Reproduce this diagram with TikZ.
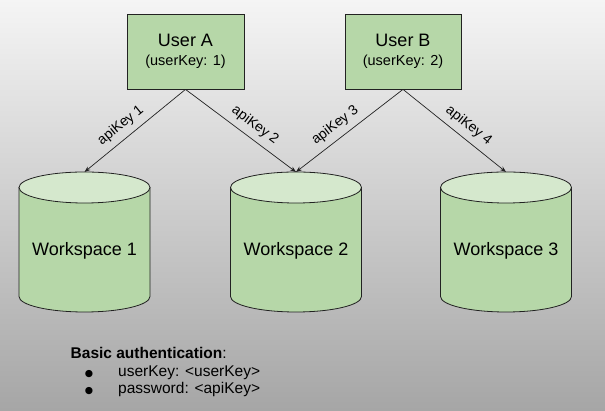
\documentclass[tikz,border=0pt]{standalone}
\usepackage{fontspec}
\setmainfont{Liberation Sans}
\newfontfamily\dejavu{DejaVu Sans}
\usetikzlibrary{arrows.meta}
\definecolor{boxgreen}{HTML}{B6D7A8}
\definecolor{capgreen}{HTML}{D5E8CD}
\definecolor{edgecol}{HTML}{222222}
\tikzset{
  userbox/.style={draw=edgecol, line width=0.8pt, fill=boxgreen, minimum width=117pt, minimum height=75pt, inner sep=0pt, align=center, font=\fontsize{18}{19.5}\selectfont},
  keyarrow/.style={draw=edgecol, line width=0.7pt, -{Stealth[length=6pt,width=4.5pt]}},
  keylabel/.style={sloped, above=5pt, pos=0.56, font=\fontsize{14}{16}\selectfont, inner sep=1pt},
  cylbody/.style={fill=boxgreen, draw=edgecol, line width=0.8pt},
  cylcap/.style={fill=capgreen, draw=edgecol, line width=0.8pt},
  bodytext/.style={inner sep=0pt, font=\fontsize{15.5}{18}\selectfont},
}
\newcommand{\wscyl}[3]{%
  % #1 name, #2 center x, #3 label
  \path[cylbody] (#2-65.5,223.5) -- (#2-65.5,114.5) arc[start angle=180, end angle=360, x radius=65.5, y radius=15.5] -- (#2+65.5,223.5) -- cycle;
  \path[cylcap] (#2,223.5) ellipse[x radius=65.5, y radius=15.5];
  \coordinate (#1top) at (#2,239);
  \node[font=\fontsize{18}{20}\selectfont] (#1) at (#2,160) {#3};
}
\newcommand{\bul}{{\dejavu\fontsize{9.5}{12}\selectfont ●}}
\begin{document}
\begin{tikzpicture}[x=1pt,y=1pt]
  \shade[top color=white!96!black, bottom color=black!35] (0,0) rectangle (605,411);
  \useasboundingbox (0,0) rectangle (605,411);

  \node[userbox] (ua) at (185.5,359.5) {User A\\{\fontsize{14.5}{19.5}\selectfont (userKey: 1)}};
  \node[userbox, minimum width=116pt] (ub) at (403,359.5) {User B\\{\fontsize{14.5}{19.5}\selectfont (userKey: 2)}};

  \wscyl{wa}{84.5}{Workspace 1}
  \wscyl{wb}{296}{Workspace 2}
  \wscyl{wc}{506}{Workspace 3}

  \draw[keyarrow] (ua.south) -- node[keylabel] {apiKey 1} (watop);
  \draw[keyarrow] (ua.south) -- node[keylabel] {apiKey 2} (wbtop);
  \draw[keyarrow] (ub.south) -- node[keylabel] {apiKey 3} (wbtop);
  \draw[keyarrow] (ub.south) -- node[keylabel] {apiKey 4} (wctop);

  \node[bodytext, anchor=base west] (auth) at (70.5,52) {\textbf{Basic authentication}:};
  \node[bodytext, anchor=base] (b1) at (89,34) {\bul};
  \node[bodytext, anchor=base west] (t1) at (118,34) {userKey: <userKey>};
  \node[bodytext, anchor=base] (b2) at (89,17) {\bul};
  \node[bodytext, anchor=base west] (t2) at (118,17) {password: <apiKey>};
\end{tikzpicture}
\end{document}
